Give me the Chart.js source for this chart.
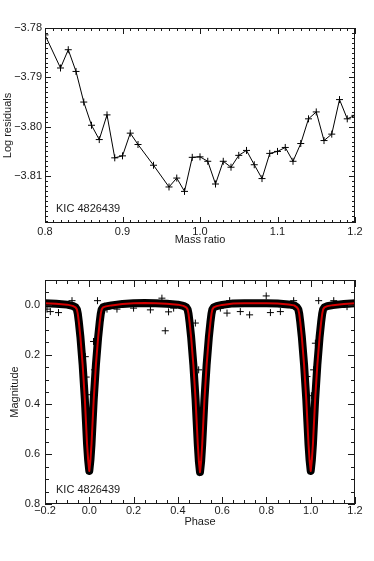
<!DOCTYPE html>
<html>
<head>
<meta charset="utf-8">
<script src="https://cdn.jsdelivr.net/npm/chart.js@4.4.1/dist/chart.umd.min.js"></script>
<style>
  body { margin: 0; background: #fff; }
  #wrap { position: relative; width: 374px; height: 561px; }
  canvas { position: absolute; left: 0; }
</style>
</head>
<body>
<div id="wrap">
  <canvas id="residChart" width="374" height="260" style="top:0"></canvas>
  <canvas id="lcChart" width="374" height="301" style="top:260px"></canvas>
</div>
<script>
// top panel: residuals vs mass ratio
const massRatio = [0.80, 0.82, 0.83, 0.84, 0.85, 0.86, 0.87, 0.88, 0.89, 0.90, 0.91, 0.92,
  0.94, 0.96, 0.97, 0.98, 0.99, 1.00, 1.01, 1.02, 1.03, 1.04, 1.05, 1.06, 1.07,
  1.08, 1.09, 1.10, 1.11, 1.12, 1.13, 1.14, 1.15, 1.16, 1.17, 1.18, 1.19, 1.20];
const logResid = [-3.7814, -3.7881, -3.7844, -3.7888, -3.7950, -3.7997, -3.8026, -3.7976, -3.8063, -3.8059, -3.8013, -3.8036,
  -3.8078, -3.8122, -3.8104, -3.8131, -3.8062, -3.8061, -3.8070, -3.8116, -3.8070, -3.8082, -3.8058, -3.8048, -3.8077,
  -3.8105, -3.8054, -3.8050, -3.8042, -3.8070, -3.8034, -3.7984, -3.7970, -3.8028, -3.8015, -3.7945, -3.7984, -3.7977];
const residXTicks = [0.8, 0.9, 1.0, 1.1, 1.2];
const residYTicks = [-3.78, -3.79, -3.80, -3.81];

// bottom panel: phased light curve
const modelPhase = [-0.20, -0.15, -0.10, -0.075, -0.062, -0.056, -0.052, -0.047, -0.040, -0.030, -0.020, -0.015, -0.010, -0.005,
  0.000, 0.005, 0.010, 0.015, 0.020, 0.030, 0.040, 0.047, 0.052, 0.056, 0.062, 0.075, 0.10, 0.15, 0.20, 0.25, 0.30, 0.35, 0.40,
  0.425, 0.438, 0.444, 0.448, 0.453, 0.460, 0.470, 0.480, 0.485, 0.490, 0.495,
  0.500, 0.505, 0.510, 0.515, 0.520, 0.530, 0.540, 0.547, 0.552, 0.556, 0.562, 0.575, 0.60, 0.65, 0.70, 0.75, 0.80, 0.85, 0.90,
  0.925, 0.938, 0.944, 0.948, 0.953, 0.960, 0.970, 0.980, 0.985, 0.990, 0.995,
  1.000, 1.005, 1.010, 1.015, 1.020, 1.030, 1.040, 1.047, 1.052, 1.056, 1.062, 1.075, 1.10, 1.15, 1.20];
const modelMag = [-0.007, -0.005, -0.001, 0.004, 0.010, 0.018, 0.035, 0.070, 0.130, 0.240, 0.380, 0.470, 0.560, 0.625,
  0.667, 0.625, 0.560, 0.470, 0.380, 0.240, 0.130, 0.070, 0.035, 0.018, 0.010, 0.006, 0.002, -0.004, -0.007, -0.008, -0.007, -0.005, -0.001,
  0.004, 0.010, 0.018, 0.035, 0.070, 0.130, 0.240, 0.380, 0.470, 0.560, 0.630,
  0.672, 0.630, 0.560, 0.470, 0.380, 0.240, 0.130, 0.070, 0.035, 0.018, 0.010, 0.005, 0.000, -0.006, -0.007, -0.007, -0.007, -0.006, -0.002,
  0.002, 0.010, 0.018, 0.035, 0.070, 0.130, 0.240, 0.380, 0.470, 0.560, 0.625,
  0.667, 0.625, 0.560, 0.470, 0.380, 0.240, 0.130, 0.070, 0.035, 0.018, 0.010, 0.005, 0.001, -0.004, -0.007];
const obsPhase = [-0.078, 0.037, 0.343, 0.328, 0.019, 0.024, -0.018, -0.014, 0.008, -0.176, -0.139, -0.191, 0.080, 0.125,
  0.200, 0.276, 0.358, 0.381, 0.799, 0.634, 0.724, 0.479, 0.494, 0.504, 0.923, 1.036, 1.104, 1.021, 1.013, 1.003,
  0.983, 0.622, 0.682, 0.818, 0.863, 1.164, 0.592];
const obsMag = [-0.017, -0.017, 0.104, -0.027, 0.147, 0.261, 0.208, 0.290, 0.361, 0.027, 0.031, 0.017, 0.017, 0.017,
  0.013, 0.020, 0.028, 0.013, -0.036, -0.017, 0.040, 0.073, 0.261, 0.438, -0.017, -0.017, -0.017, 0.154, 0.261, 0.365,
  0.288, 0.033, 0.027, 0.031, 0.027, 0.007, 0.013];
const lcXTicks = [-0.2, 0.0, 0.2, 0.4, 0.6, 0.8, 1.0, 1.2];
const lcYTicks = [0.0, 0.2, 0.4, 0.6, 0.8];

const FONT = "'Liberation Sans', Arial, Helvetica, sans-serif";
const INK = '#1a1a1a';
const fmt = (v, d) => v.toFixed(d).replace('-', '\u2212');

// IDL-ish box with inward ticks on all four sides, plus the star label
const boxTicks = {
  id: 'boxTicks',
  afterDraw(chart, args, o) {
    const { ctx, chartArea: a, scales } = chart;
    ctx.save();
    ctx.strokeStyle = INK;
    ctx.lineWidth = 1;
    ctx.strokeRect(a.left + 0.5, a.top + 0.5, a.right - a.left - 1, a.bottom - a.top - 1);
    ctx.beginPath();
    [['x', o.xMinor, o.xMajor], ['y', o.yMinor, o.yMajor]].forEach(([id, minor, major]) => {
      const s = scales[id];
      const k0 = Math.ceil(s.min / minor - 1e-6), k1 = Math.floor(s.max / minor + 1e-6);
      for (let k = k0; k <= k1; k++) {
        const v = k * minor;
        const isMajor = Math.abs(v / major - Math.round(v / major)) < 1e-6;
        const len = isMajor ? o.majorLen : o.minorLen;
        const p = Math.round(s.getPixelForValue(v)) + 0.5;
        if (id === 'x') {
          ctx.moveTo(p, a.bottom); ctx.lineTo(p, a.bottom - len);
          ctx.moveTo(p, a.top); ctx.lineTo(p, a.top + len);
        } else {
          ctx.moveTo(a.left, p); ctx.lineTo(a.left + len, p);
          ctx.moveTo(a.right, p); ctx.lineTo(a.right - len, p);
        }
      }
    });
    ctx.stroke();
    ctx.fillStyle = INK;
    ctx.font = '11px ' + FONT;
    ctx.textBaseline = 'middle';
    ctx.fillText('KIC 4826439', a.left + 11, a.bottom - 14);
    ctx.restore();
  }
};

const fixTicks = vals => scale => { scale.ticks = vals.map(v => ({ value: v })); };
const noGrid = { display: false, drawTicks: false, tickLength: 0 };

// top chart
new Chart(document.getElementById('residChart').getContext('2d'), {
  type: 'line',
  data: {
    datasets: [{
      data: massRatio.map((q, i) => ({ x: q, y: logResid[i] })),
      borderColor: '#000',
      borderWidth: 1,
      tension: 0,
      pointStyle: 'cross',
      pointRadius: 3.5,
      pointBorderWidth: 1,
      pointBorderColor: '#000'
    }]
  },
  options: {
    responsive: false,
    animation: false,
    layout: { padding: { top: 28, right: 19, bottom: 13, left: 0 } },
    plugins: {
      legend: { display: false },
      tooltip: { enabled: false },
      boxTicks: { xMinor: 0.01, xMajor: 0.1, yMinor: 0.001, yMajor: 0.01, majorLen: 6, minorLen: 3 }
    },
    scales: {
      x: {
        type: 'linear', min: 0.8, max: 1.2,
        afterBuildTicks: fixTicks(residXTicks),
        afterFit: s => { s.height = 24; },
        grid: noGrid, border: { display: false },
        ticks: { padding: 2, color: INK, font: { family: FONT, size: 11 }, maxRotation: 0, autoSkip: false, callback: v => fmt(v, 1) },
        title: { display: true, text: 'Mass ratio', color: INK, padding: 0, font: { family: FONT, size: 11 } }
      },
      y: {
        min: -3.8195, max: -3.78,
        afterBuildTicks: fixTicks(residYTicks),
        afterFit: s => { s.width = 45; },
        grid: noGrid, border: { display: false },
        ticks: { padding: 3, color: INK, font: { family: FONT, size: 11 }, autoSkip: false, callback: v => fmt(v, 2) },
        title: { display: true, text: 'Log residuals', color: INK, padding: { top: 1, bottom: 0 }, font: { family: FONT, size: 11 } }
      }
    }
  },
  plugins: [boxTicks]
});

// bottom chart
const modelPts = modelPhase.map((p, i) => ({ x: p, y: modelMag[i] }));
new Chart(document.getElementById('lcChart').getContext('2d'), {
  type: 'line',
  data: {
    datasets: [
      { // fitted model
        data: modelPts, borderColor: '#d40000', borderWidth: 2, pointRadius: 0, tension: 0, order: 0,
        borderJoinStyle: 'round'
      },
      { // stray observations
        data: obsPhase.map((p, i) => ({ x: p, y: obsMag[i] })), showLine: false, order: 1,
        pointStyle: 'cross', pointRadius: 3.5, pointBorderWidth: 1, pointBorderColor: '#000'
      },
      { // dense observations, drawn as a band
        data: modelPts, borderColor: '#000', borderWidth: 8, pointRadius: 0, tension: 0, order: 2,
        borderJoinStyle: 'round', borderCapStyle: 'round'
      }
    ]
  },
  options: {
    responsive: false,
    animation: false,
    layout: { padding: { top: 20, right: 19, bottom: 32, left: 0 } },
    plugins: {
      legend: { display: false },
      tooltip: { enabled: false },
      boxTicks: { xMinor: 0.05, xMajor: 0.2, yMinor: 0.05, yMajor: 0.2, majorLen: 7, minorLen: 4 }
    },
    scales: {
      x: {
        type: 'linear', min: -0.2, max: 1.2,
        afterBuildTicks: fixTicks(lcXTicks),
        afterFit: s => { s.height = 25; },
        grid: noGrid, border: { display: false },
        ticks: { padding: 0, color: INK, font: { family: FONT, size: 11 }, maxRotation: 0, autoSkip: false, callback: v => fmt(v, 1) },
        title: { display: true, text: 'Phase', color: INK, padding: 0, font: { family: FONT, size: 11 } }
      },
      y: {
        min: -0.1, max: 0.8, reverse: true,
        afterBuildTicks: fixTicks(lcYTicks),
        afterFit: s => { s.width = 45; },
        grid: noGrid, border: { display: false },
        ticks: { padding: 5, color: INK, font: { family: FONT, size: 11 }, autoSkip: false, callback: v => fmt(v, 1) },
        title: { display: true, text: 'Magnitude', color: INK, padding: { top: 8, bottom: 0 }, font: { family: FONT, size: 11 } }
      }
    }
  },
  plugins: [boxTicks]
});
</script>
</body>
</html>
